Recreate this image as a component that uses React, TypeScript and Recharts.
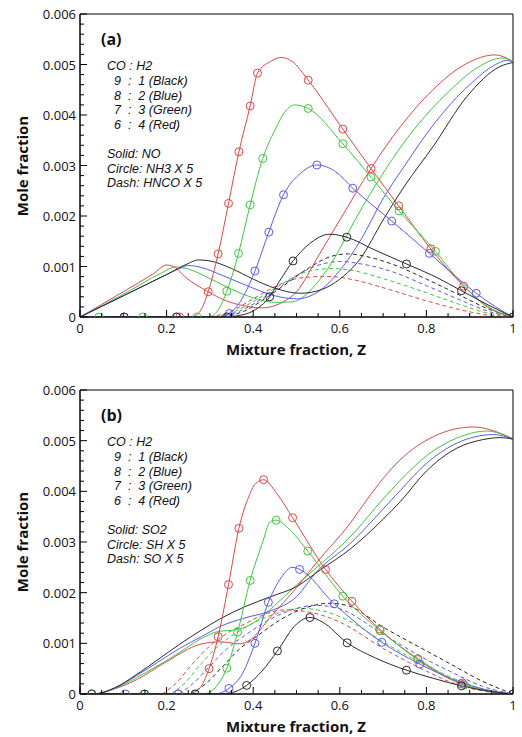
import React from "react";
import { LineChart, Line, XAxis, YAxis, ReferenceArea } from "recharts";

type Pt = [number, number];

// values are read in units of 1e-3 (mole fraction)
const SCALE = 0.001;

const X_MAJOR = [0, 0.2, 0.4, 0.6, 0.8, 1];
const X_LABELS = ["0", "0.2", "0.4", "0.6", "0.8", "1"];
const Y_MAJOR = [0, 0.001, 0.002, 0.003, 0.004, 0.005, 0.006];
const Y_LABELS = ["0", "0.001", "0.002", "0.003", "0.004", "0.005", "0.006"];

const RED = "#e04646";
const GREEN = "#3cc83c";
const BLUE = "#5a5af0";
const BLACK = "#2a2a2a";

// ---------- panel (a) ----------
const A_NO_BLACK: Pt[] = [[0, 0], [0.1, 0.42], [0.2, 0.84], [0.25, 1.06], [0.273, 1.13], [0.3, 1.11], [0.35, 0.96], [0.4, 0.75], [0.45, 0.57], [0.51, 0.47], [0.56, 0.55], [0.6, 0.75], [0.647, 1.15], [0.7, 1.92], [0.75, 2.6], [0.815, 3.37], [0.893, 4.36], [0.97, 4.96], [1, 5.04]];
const A_NO_BLUE: Pt[] = [[0, 0], [0.1, 0.42], [0.2, 0.84], [0.23, 0.96], [0.25, 1.02], [0.28, 0.98], [0.33, 0.82], [0.4, 0.57], [0.45, 0.42], [0.5, 0.36], [0.55, 0.5], [0.6, 0.92], [0.65, 1.55], [0.697, 2.3], [0.75, 3.0], [0.82, 3.85], [0.9, 4.6], [0.96, 5.0], [0.985, 5.08], [1, 5.05]];
const A_NO_GREEN: Pt[] = [[0, 0], [0.1, 0.45], [0.19, 0.88], [0.219, 0.99], [0.25, 0.95], [0.3, 0.76], [0.35, 0.55], [0.4, 0.38], [0.45, 0.29], [0.49, 0.3], [0.55, 0.7], [0.59, 1.2], [0.635, 1.92], [0.7, 2.85], [0.77, 3.7], [0.85, 4.45], [0.92, 4.95], [0.975, 5.13], [1, 5.06]];
const A_NO_RED: Pt[] = [[0, 0], [0.1, 0.5], [0.17, 0.86], [0.2, 1.03], [0.22, 0.98], [0.242, 0.8], [0.296, 0.5], [0.335, 0.33], [0.38, 0.22], [0.42, 0.18], [0.46, 0.26], [0.5, 0.5], [0.55, 1.2], [0.6, 1.92], [0.672, 2.94], [0.74, 3.77], [0.815, 4.5], [0.893, 5.02], [0.958, 5.19], [1, 5.06]];

const A_NH3_BLACK: Pt[] = [[0, 0], [0.36, 0.02], [0.4, 0.12], [0.46, 0.7], [0.53, 1.45], [0.577, 1.64], [0.68, 1.33], [0.82, 0.8], [0.94, 0.25]];
const A_NH3_BLACK_MARK: Pt[] = [[0.102, 0], [0.223, 0], [0.34, 0], [0.438, 0.4], [0.492, 1.11], [0.616, 1.58], [0.754, 1.05], [0.881, 0.52], [1, 0]];
const A_NH3_BLUE: Pt[] = [[0, 0], [0.32, 0], [0.37, 0.3], [0.51, 2.85], [0.59, 2.88], [0.96, 0.2]];
const A_NH3_BLUE_MARK: Pt[] = [[0.102, 0], [0.223, 0], [0.345, 0.07], [0.404, 0.91], [0.436, 1.68], [0.47, 2.42], [0.547, 3.01], [0.63, 2.55], [0.72, 1.9], [0.807, 1.26], [0.915, 0.47], [1, 0]];
const A_NH3_GREEN: Pt[] = [[0, 0], [0.3, 0.01], [0.32, 0.15], [0.45, 3.7], [0.475, 4.08], [0.495, 4.2], [0.88, 0.68], [0.94, 0.22]];
const A_NH3_GREEN_MARK: Pt[] = [[0.044, 0], [0.145, 0], [0.27, 0], [0.339, 0.51], [0.366, 1.26], [0.393, 2.22], [0.422, 3.14], [0.527, 4.13], [0.607, 3.43], [0.672, 2.77], [0.737, 2.1], [0.821, 1.3], [1, 0]];
const A_NH3_RED: Pt[] = [[0, 0], [0.26, 0.01], [0.28, 0.15], [0.44, 5.06], [0.464, 5.14], [0.49, 5.06], [0.95, 0.15]];
const A_NH3_RED_MARK: Pt[] = [[0.23, 0], [0.296, 0.5], [0.319, 1.25], [0.343, 2.25], [0.367, 3.27], [0.393, 4.18], [0.41, 4.83], [0.527, 4.69], [0.607, 3.72], [0.672, 2.94], [0.736, 2.2], [0.81, 1.35], [0.886, 0.61], [1, 0]];

const A_HNCO_BLACK: Pt[] = [[0.33, 0], [0.38, 0.12], [0.43, 0.38], [0.48, 0.68], [0.53, 0.98], [0.58, 1.2], [0.62, 1.25], [0.66, 1.2], [0.72, 1.05], [0.8, 0.75], [0.88, 0.42], [0.94, 0.17], [1, 0]];
const A_HNCO_BLUE: Pt[] = [[0.32, 0], [0.37, 0.12], [0.42, 0.36], [0.47, 0.64], [0.52, 0.92], [0.57, 1.07], [0.6, 1.1], [0.65, 1.05], [0.72, 0.9], [0.8, 0.62], [0.88, 0.33], [0.94, 0.12], [1, 0]];
const A_HNCO_GREEN: Pt[] = [[0.31, 0], [0.36, 0.12], [0.41, 0.36], [0.46, 0.62], [0.51, 0.86], [0.55, 0.94], [0.585, 0.96], [0.63, 0.92], [0.7, 0.76], [0.8, 0.48], [0.88, 0.24], [0.94, 0.08], [1, 0]];
const A_HNCO_RED: Pt[] = [[0.3, 0], [0.35, 0.12], [0.4, 0.36], [0.45, 0.6], [0.5, 0.76], [0.55, 0.8], [0.58, 0.8], [0.63, 0.74], [0.7, 0.58], [0.8, 0.32], [0.88, 0.14], [0.94, 0.04], [1, 0]];

// ---------- panel (b) ----------
const B_SO2_BLACK: Pt[] = [[0, 0], [0.03, 0], [0.08, 0.12], [0.13, 0.38], [0.18, 0.68], [0.23, 0.98], [0.28, 1.26], [0.323, 1.48], [0.38, 1.72], [0.44, 1.92], [0.5, 2.12], [0.555, 2.45], [0.624, 2.86], [0.7, 3.45], [0.74, 3.8], [0.8, 4.4], [0.87, 4.85], [0.93, 5.02], [0.97, 5.06], [1, 5.03]];
const B_SO2_BLUE: Pt[] = [[0, 0], [0.03, 0], [0.08, 0.12], [0.13, 0.36], [0.18, 0.63], [0.23, 0.9], [0.28, 1.13], [0.323, 1.33], [0.38, 1.5], [0.44, 1.64], [0.5, 1.92], [0.545, 2.4], [0.624, 2.97], [0.7, 3.65], [0.74, 4.02], [0.8, 4.55], [0.87, 4.95], [0.955, 5.12], [1, 5.03]];
const B_SO2_GREEN: Pt[] = [[0, 0], [0.03, 0], [0.08, 0.11], [0.13, 0.32], [0.18, 0.56], [0.23, 0.82], [0.277, 1.08], [0.323, 1.24], [0.354, 1.26], [0.4, 1.4], [0.45, 1.75], [0.5, 2.15], [0.54, 2.45], [0.624, 3.1], [0.7, 3.85], [0.74, 4.22], [0.8, 4.7], [0.87, 5.05], [0.939, 5.19], [1, 5.03]];
const B_SO2_RED: Pt[] = [[0, 0], [0.03, 0], [0.08, 0.1], [0.13, 0.28], [0.2, 0.64], [0.277, 0.98], [0.323, 1.03], [0.37, 0.99], [0.393, 1.07], [0.44, 1.52], [0.5, 2.1], [0.547, 2.6], [0.624, 3.37], [0.662, 3.83], [0.739, 4.62], [0.816, 5.08], [0.908, 5.27], [1, 5.04]];

const B_SH_BLACK: Pt[] = [[0, 0], [0.33, 0], [0.36, 0.05], [0.42, 0.45], [0.5, 1.38], [0.56, 1.42], [0.68, 0.72], [0.82, 0.3], [0.94, 0.06]];
const B_SH_BLACK_MARK: Pt[] = [[0.027, 0], [0.149, 0], [0.266, 0], [0.385, 0.17], [0.456, 0.85], [0.531, 1.51], [0.617, 1.01], [0.754, 0.47], [0.881, 0.16], [1, 0]];
const B_SH_BLUE: Pt[] = [[0, 0], [0.31, 0], [0.375, 0.4], [0.465, 2.3], [0.49, 2.5], [0.94, 0.08]];
const B_SH_BLUE_MARK: Pt[] = [[0.105, 0], [0.227, 0], [0.344, 0.11], [0.404, 1.0], [0.435, 1.81], [0.507, 2.46], [0.587, 1.78], [0.697, 1.02], [0.785, 0.59], [0.883, 0.22], [1, 0]];
const B_SH_GREEN: Pt[] = [[0, 0], [0.29, 0.01], [0.315, 0.15], [0.42, 2.95], [0.44, 3.4], [0.48, 3.28], [0.94, 0.06]];
const B_SH_GREEN_MARK: Pt[] = [[0.027, 0], [0.149, 0], [0.266, 0], [0.339, 0.51], [0.364, 1.22], [0.393, 2.24], [0.453, 3.43], [0.526, 2.82], [0.607, 1.93], [0.693, 1.25], [0.78, 0.7], [0.888, 0.18], [1, 0]];
const B_SH_RED: Pt[] = [[0, 0], [0.25, 0], [0.275, 0.1], [0.39, 3.9], [0.405, 4.15], [0.455, 3.95], [0.94, 0.06]];
const B_SH_RED_MARK: Pt[] = [[0.227, 0], [0.298, 0.5], [0.319, 1.13], [0.343, 2.16], [0.367, 3.27], [0.424, 4.23], [0.491, 3.48], [0.567, 2.46], [0.628, 1.83], [0.692, 1.28], [0.78, 0.68], [0.88, 0.2], [1, 0]];

const B_SO_BLACK: Pt[] = [[0.255, 0], [0.29, 0.2], [0.33, 0.55], [0.37, 0.9], [0.41, 1.15], [0.46, 1.45], [0.52, 1.7], [0.577, 1.79], [0.62, 1.74], [0.7, 1.32], [0.8, 0.85], [0.854, 0.6], [0.93, 0.25], [1, 0]];
const B_SO_BLUE: Pt[] = [[0.23, 0], [0.26, 0.2], [0.3, 0.55], [0.34, 0.9], [0.38, 1.15], [0.42, 1.38], [0.47, 1.6], [0.545, 1.75], [0.6, 1.68], [0.7, 1.18], [0.8, 0.68], [0.854, 0.45], [0.93, 0.15], [1, 0]];
const B_SO_GREEN: Pt[] = [[0.21, 0], [0.24, 0.2], [0.28, 0.6], [0.32, 0.95], [0.36, 1.2], [0.4, 1.4], [0.45, 1.58], [0.508, 1.69], [0.56, 1.64], [0.62, 1.45], [0.7, 1.03], [0.8, 0.56], [0.854, 0.34], [0.93, 0.1], [1, 0]];
const B_SO_RED: Pt[] = [[0.19, 0], [0.22, 0.2], [0.26, 0.6], [0.3, 0.95], [0.34, 1.2], [0.38, 1.38], [0.42, 1.55], [0.47, 1.66], [0.52, 1.63], [0.6, 1.42], [0.7, 0.9], [0.8, 0.45], [0.854, 0.24], [0.93, 0.06], [1, 0]];

const LEGEND_A = ["Solid: NO", "Circle: NH3 X 5", "Dash: HNCO X 5"];
const LEGEND_B = ["Solid: SO2", "Circle: SH X 5", "Dash: SO X 5"];
const RATIOS = ["9  :  1 (Black)", "8  :  2 (Blue)", "7  :  3 (Green)", "6  :  4 (Red)"];

type Row = { z: number; v: number; m: boolean };

const toRows = (pts: Pt[], marks: Pt[] = []): Row[] => {
  const rows = [
    ...pts.map(([z, v]) => ({ z, v: v * SCALE, m: false })),
    ...marks.map(([z, v]) => ({ z, v: v * SCALE, m: true })),
  ];
  rows.sort((a, b) => a.z - b.z);
  return rows;
};

const X_TICKS: number[] = [];
for (let i = 0; i <= 20; i++) X_TICKS.push(Math.round(i * 5) / 100);
const Y_TICKS: number[] = [];
for (let i = 0; i <= 30; i++) Y_TICKS.push(Math.round(i * 2) / 10000);

const FONT = "'Open Sans', 'DejaVu Sans', sans-serif";
const NOTE_FONT = "'Liberation Sans', Arial, sans-serif";

const majorIndex = (list: number[], v: number) => list.findIndex((m) => Math.abs(m - v) < 1e-9);

const XTick = (props: any) => {
  const { x, y, payload } = props;
  const k = majorIndex(X_MAJOR, payload.value);
  return (
    <g>
      <line x1={x} x2={x} y1={y} y2={y - (k >= 0 ? 7 : 4)} stroke="#000" strokeWidth={1} />
      {k >= 0 && (
        <text x={x} y={y + 15.5} textAnchor="middle" fontFamily={FONT} fontSize={13} fill="#111">
          {X_LABELS[k]}
        </text>
      )}
    </g>
  );
};

const YTick = (props: any) => {
  const { x, y, payload } = props;
  const k = majorIndex(Y_MAJOR, payload.value);
  return (
    <g>
      <line x1={x} x2={x + (k >= 0 ? 7 : 4)} y1={y} y2={y} stroke="#000" strokeWidth={1} />
      {k >= 0 && (
        <text x={x - 4} y={y + 5} textAnchor="end" fontFamily={FONT} fontSize={13} fill="#111">
          {Y_LABELS[k]}
        </text>
      )}
    </g>
  );
};

const markerDot = (color: string) => (props: any) => {
  const { cx, cy, payload, index } = props;
  if (!payload || !payload.m) return <g key={`n${index}`} />;
  return <circle key={`c${index}`} cx={cx} cy={cy} r={4} stroke={color} strokeWidth={1} fill="none" />;
};

type Series = { pts: Pt[]; marks?: Pt[]; color: string; kind: "solid" | "circle" | "dash" };

type PanelProps = {
  tag: string;
  legend: string[];
  series: Series[];
  height: number;
  top: number;
};

const Panel = ({ tag, legend, series, height, top }: PanelProps) => {
  const textStyle: React.CSSProperties = {
    position: "absolute",
    fontFamily: NOTE_FONT,
    fontStyle: "italic",
    fontSize: 12.5,
    lineHeight: "13px",
    whiteSpace: "pre",
    color: "#111",
  };
  const legendRows = [
    { t: "CO : H2", x: 107, y: 60 },
    ...RATIOS.map((t, i) => ({ t, x: 114, y: 75 + i * 14.7 })),
    ...legend.map((t, i) => ({ t, x: 107, y: 148 + i * 14.6 })),
  ];
  return (
    <div style={{ position: "absolute", left: 0, top, width: 522, height }}>
      <LineChart width={522} height={height} margin={{ top: 14, right: 9, left: 0, bottom: 0 }}>
        <XAxis
          type="number"
          dataKey="z"
          domain={[0, 1]}
          ticks={X_TICKS}
          interval={0}
          tick={<XTick />}
          tickLine={false}
          tickSize={0}
          tickMargin={0}
          height={43}
          axisLine={{ stroke: "#000" }}
          allowDataOverflow
        />
        <YAxis
          type="number"
          domain={[0, 0.006]}
          ticks={Y_TICKS}
          interval={0}
          tick={<YTick />}
          tickLine={false}
          tickSize={0}
          tickMargin={0}
          width={80}
          axisLine={{ stroke: "#000" }}
          allowDataOverflow
        />
        <ReferenceArea x1={0} x2={1} y1={0} y2={0.006} fill="none" stroke="#000" strokeWidth={1} />
        {series.map((s, i) => (
          <Line
            key={i}
            data={toRows(s.pts, s.marks)}
            dataKey="v"
            type="monotone"
            stroke={s.color}
            strokeWidth={1}
            strokeDasharray={s.kind === "dash" ? "4 3" : undefined}
            dot={s.kind === "circle" ? markerDot(s.color) : false}
            activeDot={false}
            isAnimationActive={false}
          />
        ))}
      </LineChart>
      <div style={{ ...textStyle, fontFamily: FONT, fontStyle: "normal", fontWeight: 700, fontSize: 16, left: 101, top: 29, lineHeight: "20px" }}>{tag}</div>
      {legendRows.map((r, i) => (
        <div key={i} style={{ ...textStyle, left: r.x, top: r.y }}>
          {r.t}
        </div>
      ))}
      <div
        style={{
          position: "absolute",
          left: 22 - 60,
          top: 166 - 10,
          width: 120,
          height: 20,
          lineHeight: "20px",
          textAlign: "center",
          transform: "rotate(-90deg)",
          fontFamily: FONT,
          fontWeight: 700,
          fontSize: 15,
          color: "#111",
        }}
      >
        Mole fraction
      </div>
      <div
        style={{
          position: "absolute",
          left: 196,
          width: 200,
          top: height - 21,
          lineHeight: "20px",
          textAlign: "center",
          fontFamily: FONT,
          fontWeight: 700,
          fontSize: 15,
          color: "#111",
        }}
      >
        Mixture fraction, Z
      </div>
    </div>
  );
};

const SERIES_A: Series[] = [
  { pts: A_HNCO_RED, color: RED, kind: "dash" },
  { pts: A_HNCO_GREEN, color: GREEN, kind: "dash" },
  { pts: A_HNCO_BLUE, color: BLUE, kind: "dash" },
  { pts: A_HNCO_BLACK, color: BLACK, kind: "dash" },
  { pts: A_NO_RED, color: RED, kind: "solid" },
  { pts: A_NO_GREEN, color: GREEN, kind: "solid" },
  { pts: A_NO_BLUE, color: BLUE, kind: "solid" },
  { pts: A_NO_BLACK, color: BLACK, kind: "solid" },
  { pts: A_NH3_RED, marks: A_NH3_RED_MARK, color: RED, kind: "circle" },
  { pts: A_NH3_GREEN, marks: A_NH3_GREEN_MARK, color: GREEN, kind: "circle" },
  { pts: A_NH3_BLUE, marks: A_NH3_BLUE_MARK, color: BLUE, kind: "circle" },
  { pts: A_NH3_BLACK, marks: A_NH3_BLACK_MARK, color: BLACK, kind: "circle" },
];

const SERIES_B: Series[] = [
  { pts: B_SO_RED, color: RED, kind: "dash" },
  { pts: B_SO_GREEN, color: GREEN, kind: "dash" },
  { pts: B_SO_BLUE, color: BLUE, kind: "dash" },
  { pts: B_SO_BLACK, color: BLACK, kind: "dash" },
  { pts: B_SO2_RED, color: RED, kind: "solid" },
  { pts: B_SO2_GREEN, color: GREEN, kind: "solid" },
  { pts: B_SO2_BLUE, color: BLUE, kind: "solid" },
  { pts: B_SO2_BLACK, color: BLACK, kind: "solid" },
  { pts: B_SH_RED, marks: B_SH_RED_MARK, color: RED, kind: "circle" },
  { pts: B_SH_GREEN, marks: B_SH_GREEN_MARK, color: GREEN, kind: "circle" },
  { pts: B_SH_BLUE, marks: B_SH_BLUE_MARK, color: BLUE, kind: "circle" },
  { pts: B_SH_BLACK, marks: B_SH_BLACK_MARK, color: BLACK, kind: "circle" },
];

export default function App() {
  return (
    <div style={{ position: "absolute", left: 0, top: 0, width: 522, height: 737, background: "#fff" }}>
      <Panel tag="(a)" legend={LEGEND_A} series={SERIES_A} height={360} top={0} />
      <Panel tag="(b)" legend={LEGEND_B} series={SERIES_B} height={361} top={376} />
    </div>
  );
}
